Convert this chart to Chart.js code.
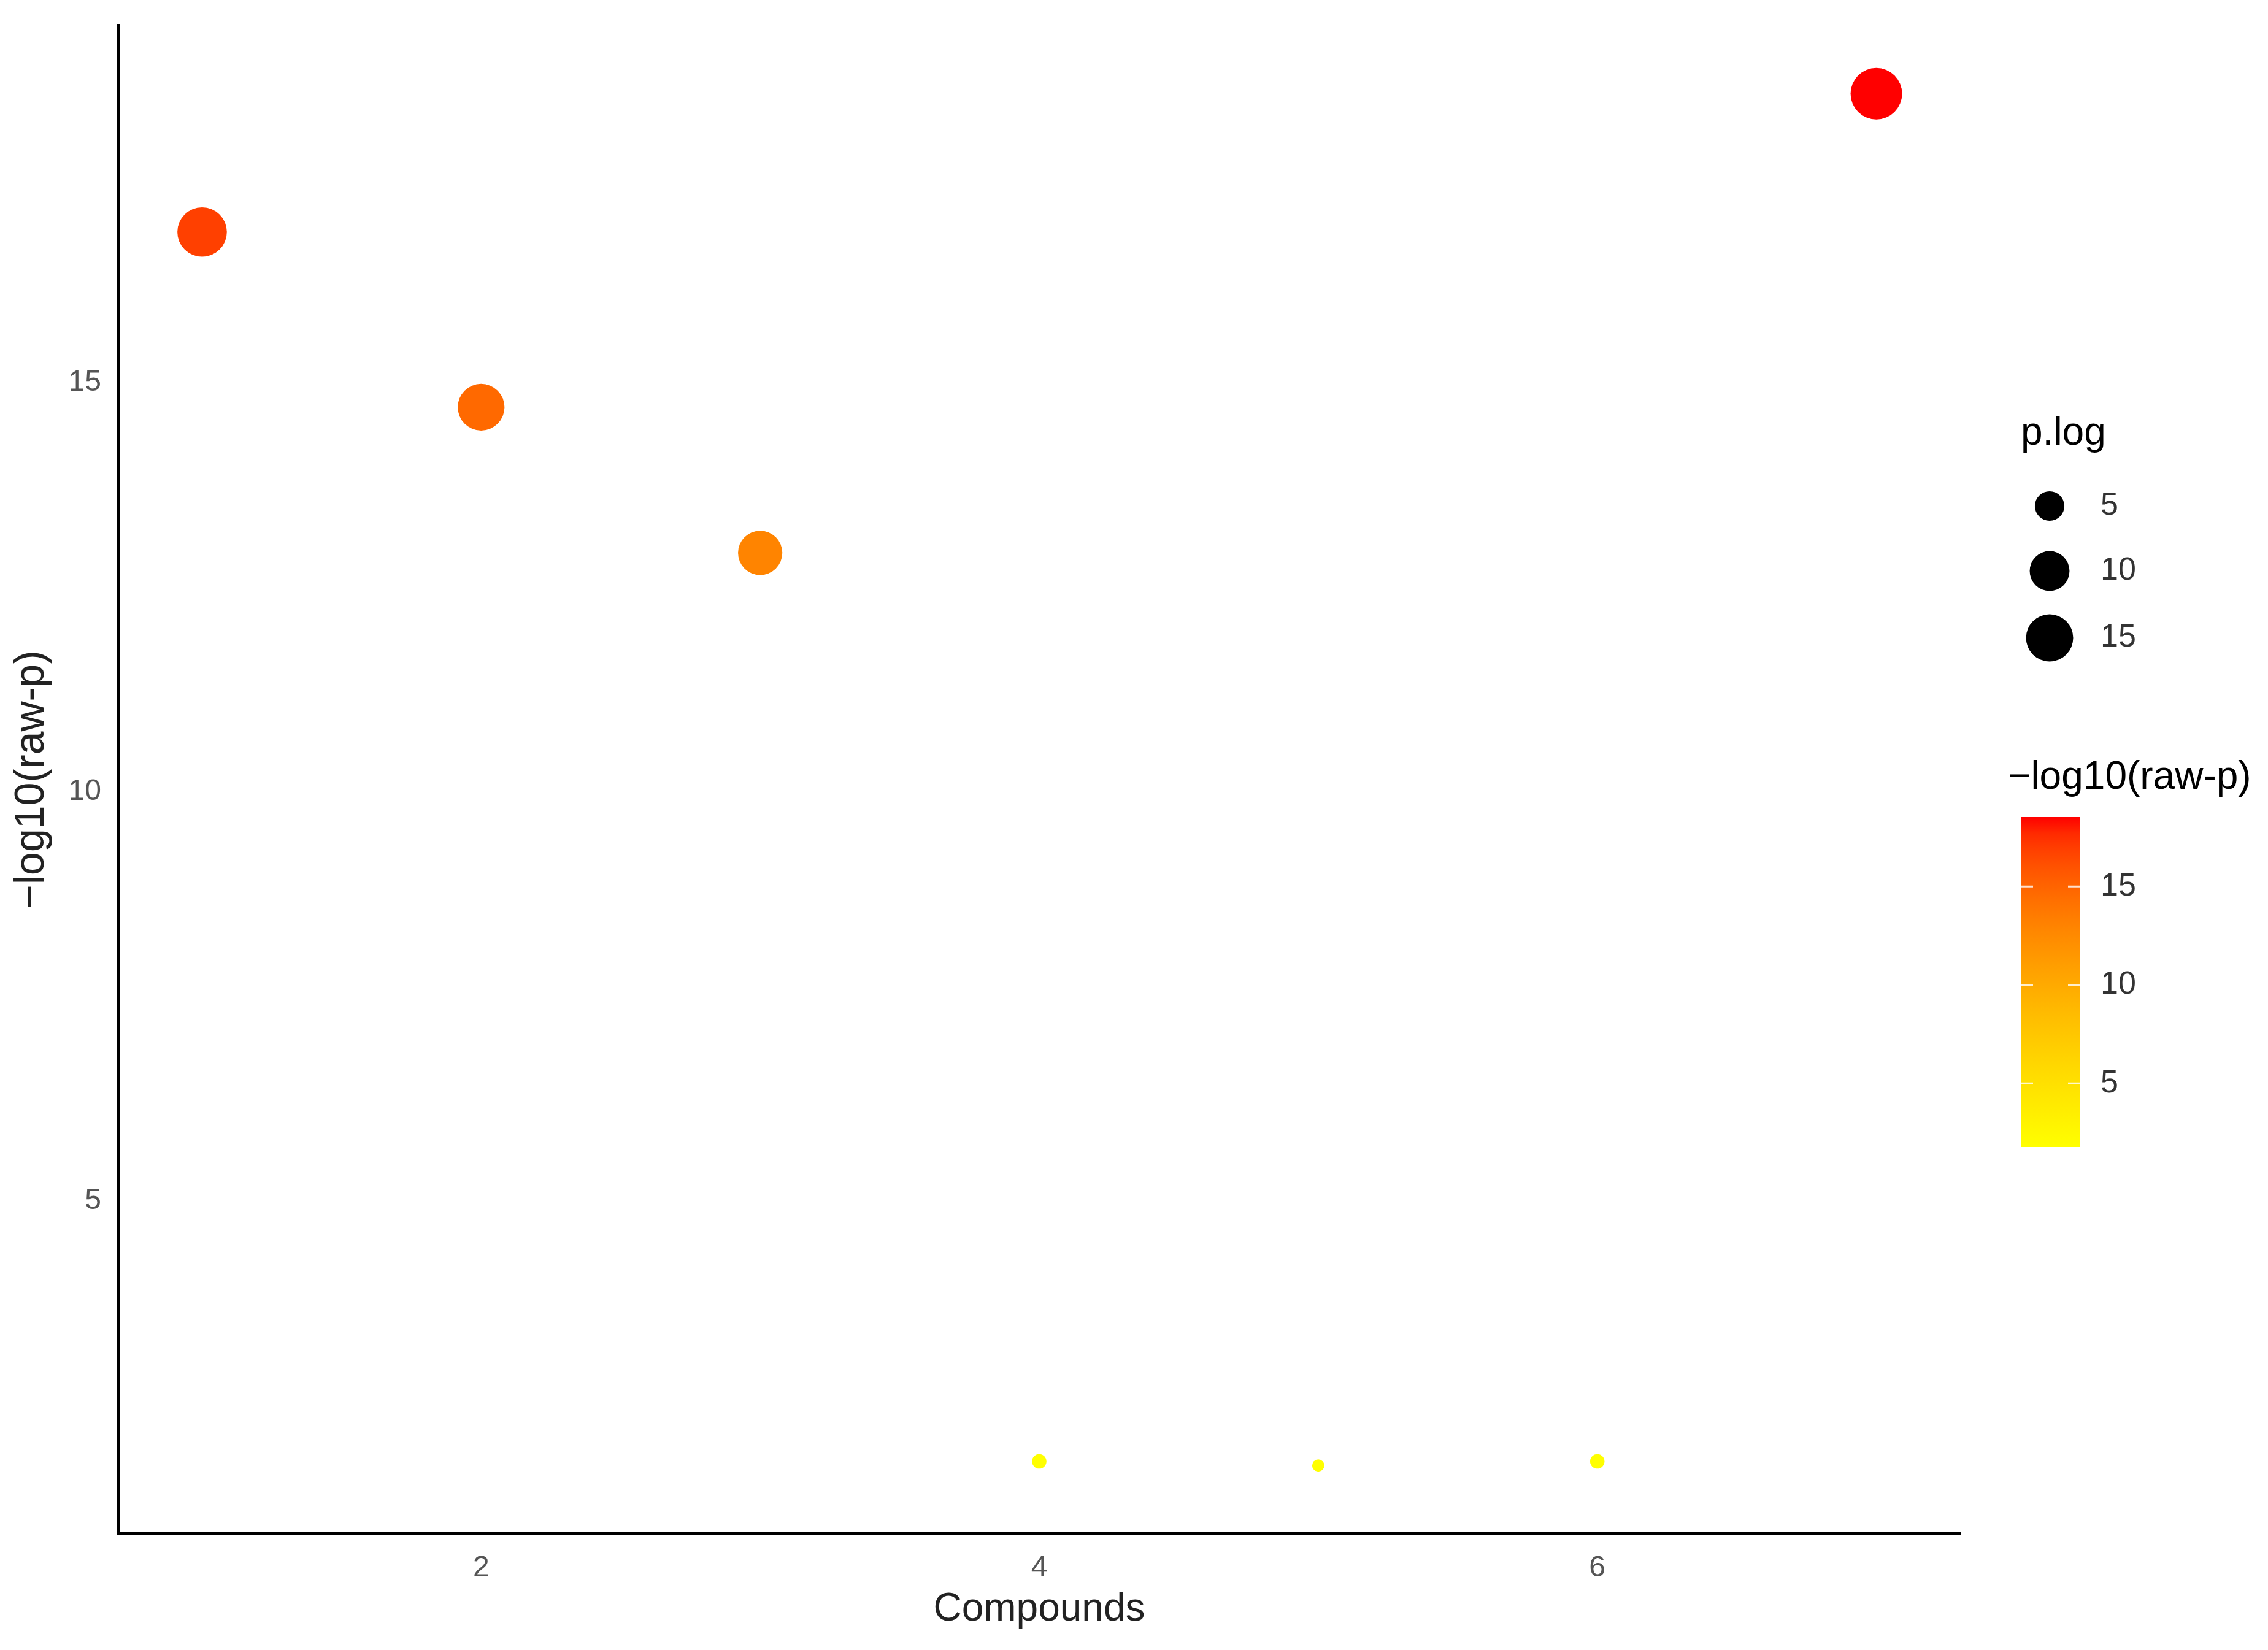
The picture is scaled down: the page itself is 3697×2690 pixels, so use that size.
<!DOCTYPE html>
<html>
<head>
<meta charset="utf-8">
<script src="https://cdn.jsdelivr.net/npm/chart.js@4/dist/chart.umd.min.js"></script>
<style>
  html, body { margin: 0; padding: 0; background: #fff; }
  #wrap { width: 3697px; height: 2690px; }
</style>
</head>
<body>
<div id="wrap"><canvas id="scatter" width="3697" height="2690"></canvas></div>
<script>
// data
var compounds = [1, 2, 3, 4, 5, 6, 7];
var pLog = [16.84, 14.70, 12.92, 1.82, 1.77, 1.82, 18.53];
var xTicks = [2, 4, 6];
var yTicks = [5, 10, 15];
var sizeLegend = [5, 10, 15];
var colorTicks = [5, 10, 15];

var FONT = "'Liberation Sans', Arial, sans-serif";
var vMin = Math.min.apply(null, pLog);
var vMax = Math.max.apply(null, pLog);

// ggplot-like area scale: radius grows with sqrt of rescaled value
function sizeFor(v) {
  var t = Math.max(0, (v - vMin) / (vMax - vMin));
  return 10 + 32 * Math.sqrt(t);
}
// yellow -> red gradient
function colorFor(v) {
  var t = Math.min(1, Math.max(0, (v - vMin) / (vMax - vMin)));
  var g = Math.round(255 * Math.pow(1 - t, 0.6));
  return 'rgb(255,' + g + ',0)';
}

var legendPlugin = {
  id: 'ggLegend',
  afterDraw: function(chart) {
    var ctx = chart.ctx;
    ctx.save();
    // size legend
    ctx.fillStyle = '#000';
    ctx.font = '64px ' + FONT;
    ctx.textAlign = 'left';
    ctx.textBaseline = 'middle';
    ctx.fillText('p.log', 3294, 707);
    var dotY = [825, 931, 1040];
    ctx.font = '52px ' + FONT;
    sizeLegend.forEach(function(v, i) {
      ctx.beginPath();
      ctx.arc(3341, dotY[i], sizeFor(v), 0, Math.PI * 2);
      ctx.fillStyle = '#000';
      ctx.fill();
      ctx.fillStyle = '#333';
      ctx.fillText(String(v), 3424, dotY[i]);
    });

    // colour bar
    ctx.fillStyle = '#000';
    ctx.font = '64px ' + FONT;
    ctx.fillText('\u2212log10(raw-p)', 3273, 1268);
    var bx = 3294, bw = 97, top = 1332, bot = 1870;
    var grad = ctx.createLinearGradient(0, bot, 0, top);
    for (var s = 0; s <= 20; s++) {
      grad.addColorStop(s / 20, colorFor(vMin + (vMax - vMin) * s / 20));
    }
    ctx.fillStyle = grad;
    ctx.fillRect(bx, top, bw, bot - top);
    ctx.strokeStyle = 'rgba(255,255,255,0.8)';
    ctx.lineWidth = 3;
    ctx.font = '52px ' + FONT;
    colorTicks.forEach(function(v) {
      var y = bot - (v - vMin) / (vMax - vMin) * (bot - top);
      ctx.beginPath();
      ctx.moveTo(bx, y); ctx.lineTo(bx + 20, y);
      ctx.moveTo(bx + bw - 20, y); ctx.lineTo(bx + bw, y);
      ctx.stroke();
      ctx.fillStyle = '#333';
      ctx.fillText(String(v), 3424, y);
    });
    ctx.restore();
  }
};

var ctx = document.getElementById('scatter').getContext('2d');
var chart = new Chart(ctx, {
  type: 'scatter',
  data: {
    datasets: [{
      label: 'p.log',
      data: compounds.map(function(c, i) { return { x: c, y: pLog[i] }; }),
      pointRadius: function(c) { return sizeFor(pLog[c.dataIndex]); },
      pointBackgroundColor: function(c) { return colorFor(pLog[c.dataIndex]); },
      pointBorderWidth: 0,
      pointBorderColor: 'rgba(0,0,0,0)'
    }]
  },
  options: {
    responsive: false,
    devicePixelRatio: 1,
    animation: false,
    layout: { padding: { top: 40, right: 502, left: 0, bottom: 0 } },
    plugins: { legend: { display: false }, tooltip: { enabled: false } },
    scales: {
      x: {
        type: 'linear',
        min: 0.7,
        max: 7.3,
        grid: { display: false, drawTicks: false },
        border: { display: true, color: '#000', width: 6 },
        afterBuildTicks: function(s) { s.ticks = xTicks.map(function(v) { return { value: v }; }); },
        afterFit: function(s) { s.height = 190; s.paddingLeft = 0; s.paddingRight = 0; },
        ticks: { color: '#555', padding: 28, font: { size: 48, family: FONT } },
        title: {
          display: true, text: 'Compounds', color: '#222',
          font: { size: 64, family: FONT }, padding: { top: 0, bottom: 27 }
        }
      },
      y: {
        type: 'linear',
        min: 0.94,
        max: 19.36,
        grid: { display: false, drawTicks: false },
        border: { display: true, color: '#000', width: 6 },
        afterBuildTicks: function(s) { s.ticks = yTicks.map(function(v) { return { value: v }; }); },
        afterFit: function(s) { s.width = 193; s.paddingTop = 0; s.paddingBottom = 0; },
        ticks: { color: '#555', padding: 28, font: { size: 48, family: FONT } },
        title: {
          display: true, text: '\u2212log10(raw-p)', color: '#222',
          font: { size: 68, family: FONT }, padding: { top: 11, bottom: 0 }
        }
      }
    }
  },
  plugins: [legendPlugin]
});
</script>
</body>
</html>
